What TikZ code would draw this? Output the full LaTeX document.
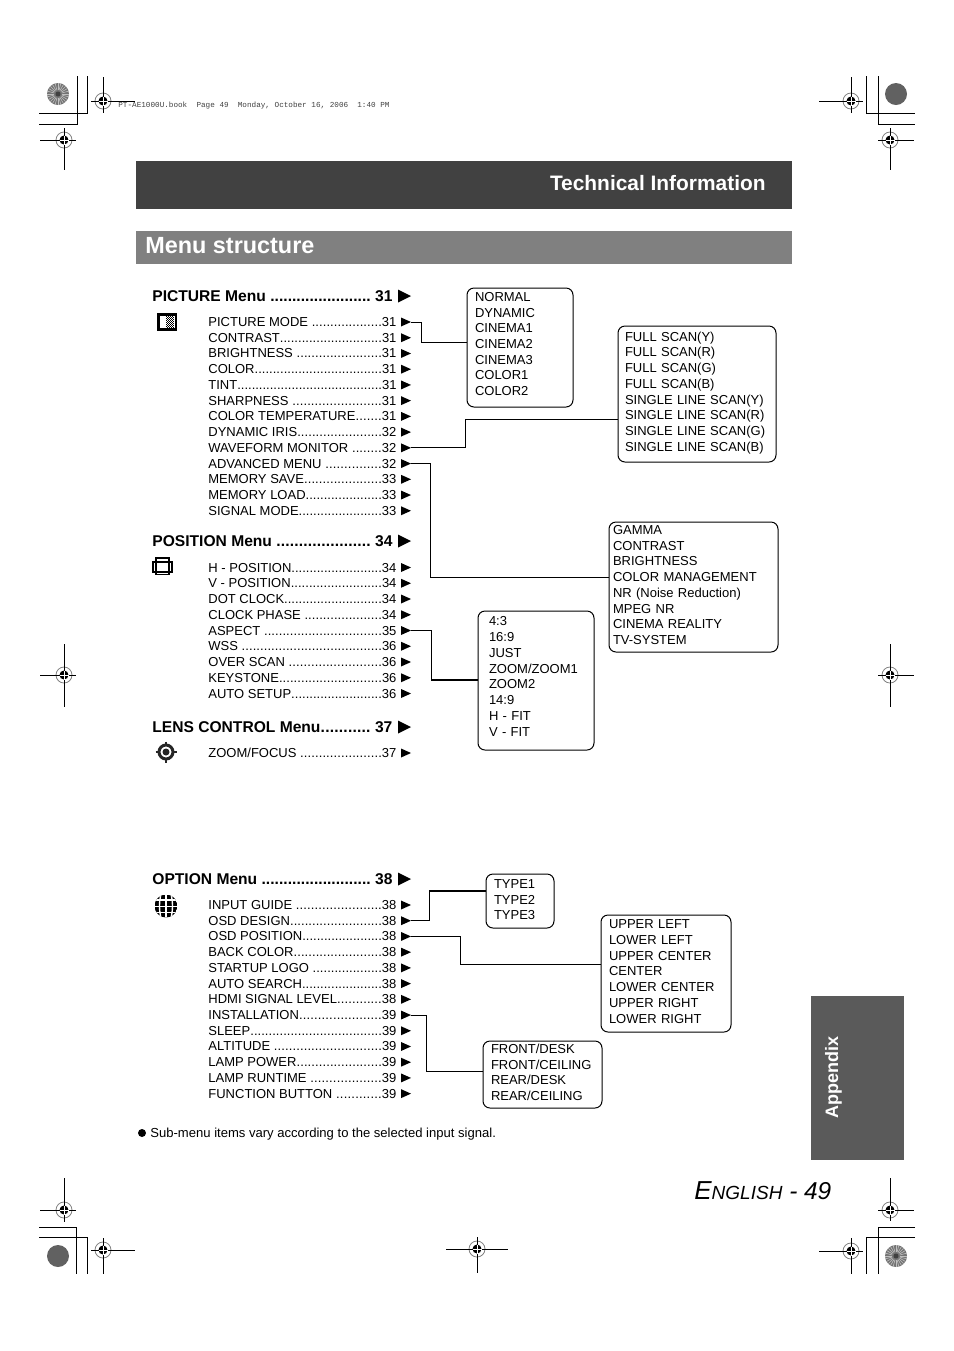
\documentclass[tikz,border=0pt]{standalone}
\usepackage{fontspec}
\setmainfont{Liberation Sans}
\setmonofont{Liberation Mono}
\usetikzlibrary{shapes.geometric}

\definecolor{bannerdark}{HTML}{414141}
\definecolor{bannergrey}{HTML}{808080}
\definecolor{tabgrey}{HTML}{5A5A5A}

\newcommand{\leaderdots}{\xleaders\hbox to .278em{.\hss}\hfill}
\newcommand{\rowfont}{\fontsize{6.5}{7.865}\selectfont}

\tikzset{
    rowtext/.style={anchor=base west, inner sep=0, font=\rowfont},
    headtext/.style={anchor=base west, inner sep=0, font=\fontsize{7.8}{9}\selectfont\bfseries},
    rowtri/.style={isosceles triangle, isosceles triangle stretches, fill=black, inner sep=0, outer sep=0,
        minimum height=5pt, minimum width=4.5pt, anchor=apex},
    headtri/.style={rowtri, minimum height=6.5pt, minimum width=6.5pt},
    menubox/.style={draw, line width=.5pt, rounded corners=3.5pt, anchor=north west, align=left,
        outer sep=0, inner ysep=0, font=\rowfont},
    link/.style={line width=.5pt},
    cropline/.style={line width=.45pt},
}

\begin{document}
\begin{tikzpicture}[x=.5pt, y=-.5pt]
    \useasboundingbox (0,0) rectangle (954,1351);

    % corner lines
    \draw[cropline] (77,76) -- (77,124) -- (39,124);
    \draw[cropline] (87,76) -- (87,113) -- (39,113);
    \draw[cropline] (866,76) -- (866,113) -- (915,113);
    \draw[cropline] (878,76) -- (878,124) -- (915,124);
    \draw[cropline] (39,1227) -- (76,1227) -- (76,1274);
    \draw[cropline] (39,1237) -- (87,1237) -- (87,1274);
    \draw[cropline] (915,1227) -- (878,1227) -- (878,1274);
    \draw[cropline] (915,1237) -- (866,1237) -- (866,1274);

    % register marks
    \foreach \cx/\cy/\xa/\xb/\ya/\yb in {103/101/91/135/77/113, 64/140/40/76/128/170,
        851/101/819/863/77/113, 890/140/878/914/128/170,
        64/675/40/76/644/707, 890/675/878/914/644/707,
        64/1210/40/76/1178/1222, 103/1250/91/135/1238/1274,
        890/1210/878/914/1178/1221, 851/1251/819/863/1238/1274,
        477/1249/446/508/1237/1273} {
        \draw[gray, line width=.4pt] (\cx,\cy) circle (8);
        \draw[cropline] (\xa,\cy) -- (\xb,\cy);
        \draw[cropline] (\cx,\ya) -- (\cx,\yb);
        \fill (\cx,\cy) circle (4.5);
        \draw[white, line width=.2pt] (\cx-4.5,\cy) -- (\cx+4.5,\cy);
        \draw[white, line width=.2pt] (\cx,\cy-4.5) -- (\cx,\cy+4.5);
    }

    % target discs
    \fill[black!62] (896,94) circle (11);
    \fill[black!62] (58,1256) circle (11);
    \foreach \cx/\cy in {58/94, 896/1256} {
        \fill[black!55] (\cx,\cy) circle (11);
        \foreach \a in {0,15,...,345}
            \draw[white!75!black, line width=.3pt] (\cx,\cy) ++(\a:4) -- ++(\a:7);
        \fill[black!75] (\cx,\cy) circle (2.5);
    }

    % print line
    \node[anchor=west, inner sep=0, font=\fontsize{3.83}{4}\selectfont\ttfamily, black!75] (printline) at (118,105.5)
        {PT-AE1000U.book~~Page 49~~Monday, October 16, 2006~~1:40 PM};

    % banners
    \fill[bannerdark] (136,161) rectangle (792,209);
    \node[anchor=base east, inner sep=0, text=white, font=\fontsize{10.45}{12}\selectfont\bfseries] (techtitle) at (766,190.5)
        {Technical Information};
    \fill[bannergrey] (136,231) rectangle (792,264);
    \node[anchor=base west, inner sep=0, text=white, font=\fontsize{11.7}{13}\selectfont\bfseries] (menutitle) at (145,253)
        {Menu structure};

    % PICTURE Menu
    \node[headtext] (pichead) at (152,301) {\hbox to 120pt{PICTURE Menu~\leaderdots~31}};
    \node[headtri] (pictri) at (411,296) {};
    \foreach \lab/\pg [count=\i] in {PICTURE MODE~/31, CONTRAST/31, BRIGHTNESS~/31, COLOR/31, TINT/31,
        SHARPNESS~/31, COLOR TEMPERATURE/31, DYNAMIC IRIS/32, WAVEFORM MONITOR~/32,
        ADVANCED MENU~/32, MEMORY SAVE/33, MEMORY LOAD/33, SIGNAL MODE/33} {
        \pgfmathsetmacro\ry{322+(\i-1)*15.73}
        \node[rowtext] (pictext\i) at (208,\ry+4.5) {\hbox to 94pt{\lab\leaderdots\pg}};
        \node[rowtri] (pic\i) at (411,\ry) {};
    }

    % POSITION Menu
    \node[headtext] (poshead) at (152,546) {\hbox to 120pt{POSITION Menu~\leaderdots~34}};
    \node[headtri] (postri) at (411,541) {};
    \foreach \lab/\pg [count=\i] in {H - POSITION/34, V - POSITION/34, DOT CLOCK/34, CLOCK PHASE~/34,
        ASPECT~/35, WSS~/36, OVER SCAN~/36, KEYSTONE/36, AUTO SETUP/36} {
        \pgfmathsetmacro\ry{567.5+(\i-1)*15.75}
        \node[rowtext] (postext\i) at (208,\ry+4.5) {\hbox to 94pt{\lab\leaderdots\pg}};
        \node[rowtri] (pos\i) at (411,\ry) {};
    }

    % LENS CONTROL Menu
    \node[headtext] (lenshead) at (152,732) {\hbox to 120pt{LENS CONTROL Menu\leaderdots~37}};
    \node[headtri] (lenstri) at (411,727) {};
    \node[rowtext] (lenstext1) at (208,757.5) {\hbox to 94pt{ZOOM/FOCUS~\leaderdots 37}};
    \node[rowtri] (lens1) at (411,753) {};

    % OPTION Menu
    \node[headtext] (opthead) at (152,884) {\hbox to 120pt{OPTION Menu~\leaderdots~38}};
    \node[headtri] (opttri) at (411,879) {};
    \foreach \lab/\pg [count=\i] in {INPUT GUIDE~/38, OSD DESIGN/38, OSD POSITION/38, BACK COLOR/38,
        STARTUP LOGO~/38, AUTO SEARCH/38, HDMI SIGNAL LEVEL/38, INSTALLATION/39, SLEEP/39,
        ALTITUDE~/39, LAMP POWER/39, LAMP RUNTIME~/39, FUNCTION BUTTON~/39} {
        \pgfmathsetmacro\ry{905+(\i-1)*15.72}
        \node[rowtext] (opttext\i) at (208,\ry+4.5) {\hbox to 94pt{\lab\leaderdots\pg}};
        \node[rowtri] (opt\i) at (411,\ry) {};
    }

    % sub-menu boxes
    \node[menubox, inner xsep=4pt, text width=45pt, minimum width=53pt, minimum height=59.5pt, text depth=50.7pt] (modebox) at (467,288)
        {NORMAL\\DYNAMIC\\CINEMA1\\CINEMA2\\CINEMA3\\COLOR1\\COLOR2};
    \node[menubox, inner xsep=3.5pt, text width=72pt, minimum width=79pt, minimum height=68pt, text depth=57.5pt] (scanbox) at (618,326)
        {FULL SCAN(Y)\\FULL SCAN(R)\\FULL SCAN(G)\\FULL SCAN(B)\\SINGLE LINE SCAN(Y)\\SINGLE LINE SCAN(R)\\SINGLE LINE SCAN(G)\\SINGLE LINE SCAN(B)};
    \node[menubox, inner xsep=2pt, text width=80.5pt, minimum width=84.5pt, minimum height=65pt, text depth=57.1pt] (advbox) at (609,522)
        {GAMMA\\CONTRAST\\BRIGHTNESS\\COLOR MANAGEMENT\\NR (Noise Reduction)\\MPEG NR\\CINEMA REALITY\\TV-SYSTEM};
    \node[menubox, inner xsep=5.5pt, text width=47pt, minimum width=58pt, minimum height=69.5pt, text depth=59.1pt] (aspectbox) at (478,611)
        {4:3\\16:9\\JUST\\ZOOM/ZOOM1\\ZOOM2\\14:9\\H - FIT\\V - FIT};
    \node[menubox, inner xsep=4pt, text width=26pt, minimum width=34pt, minimum height=27pt, text depth=17.2pt] (typebox) at (486,874)
        {TYPE1\\TYPE2\\TYPE3};
    \node[menubox, inner xsep=4pt, text width=57pt, minimum width=65pt, minimum height=58.5pt, text depth=49.2pt] (osdbox) at (601,915)
        {UPPER LEFT\\LOWER LEFT\\UPPER CENTER\\CENTER\\LOWER CENTER\\UPPER RIGHT\\LOWER RIGHT};
    \node[menubox, inner xsep=4pt, text width=51.5pt, minimum width=59.5pt, minimum height=33.5pt, text depth=25.8pt] (instbox) at (483,1041)
        {FRONT/DESK\\FRONT/CEILING\\REAR/DESK\\REAR/CEILING};

    % connectors
    \coordinate (modejoin) at (421,342);
    \coordinate (scanjoin) at (465,419);
    \coordinate (advjoin) at (430,577);
    \coordinate (aspectjoin) at (431,680);
    \coordinate (typejoin) at (429,891);
    \coordinate (osdjoin) at (460,964);
    \coordinate (instjoin) at (426,1071);
    \draw[link] (pic1.apex) -| (modejoin) -- (modejoin -| modebox.west);
    \draw[link] (pic9.apex) -| (scanjoin) -- (scanjoin -| scanbox.west);
    \draw[link] (pic10.apex) -| (advjoin) -- (advjoin -| advbox.west);
    \draw[link] (pos5.apex) -| (aspectjoin);
    \draw[link, line width=.8pt] (aspectjoin) -- (aspectjoin -| aspectbox.west);
    \draw[link] (opt2.apex) -| (typejoin);
    \draw[link, line width=.8pt] (typejoin) -- (typejoin -| typebox.west);
    \draw[link] (opt3.apex) -| (osdjoin) -- (osdjoin -| osdbox.west);
    \draw[link] (opt8.apex) -| (instjoin) -- (instjoin -| instbox.west);

    % picture icon
    \fill (157,313) rectangle (177,331);
    \fill[white] (159.5,315.5) rectangle (174.5,327.5);
    \foreach \dx in {0,1,2,3} \foreach \dy in {0,1,2,3,4,5} {
        \fill (166+\dx*2,315.5+\dy*2) rectangle ++(1,1);
        \fill (167+\dx*2,316.5+\dy*2) rectangle ++(1,1);
    }

    % position icon
    \draw[line width=1pt] (153,562) rectangle (172,572);
    \draw[line width=.9pt] (156,558) rectangle (169,574.5);

    % lens icon
    \draw[line width=1.5pt, black!85] (166,752) circle (7);
    \draw[line width=.9pt, black!85] (166,741.5) -- (166,746);
    \draw[line width=.9pt, black!85] (166,758) -- (166,762.5);
    \draw[line width=.9pt, black!85] (155.5,752) -- (160,752);
    \draw[line width=.9pt, black!85] (172,752) -- (176.5,752);
    \fill[black!85] (166,752) circle (3.5);

    % globe icon
    \begin{scope}
        \clip (166,906) circle (11.5);
        \fill (155,895) rectangle (177,918);
        \draw[white, line width=.7pt] (154,900) -- (178,900);
        \draw[white, line width=.7pt] (154,906.5) -- (178,906.5);
        \draw[white, line width=.7pt] (154,912.5) -- (178,912.5);
        \draw[white, line width=.7pt] (166,894) -- (166,918);
        \draw[white, line width=.7pt] (161,894) .. controls (159,902) and (159,910) .. (161,918);
        \draw[white, line width=.7pt] (171,894) .. controls (173,902) and (173,910) .. (171,918);
    \end{scope}

    % footnote
    \node[circle, fill=black, inner sep=0, minimum size=4pt] (notedot) at (142,1133) {};
    \node[anchor=base west, inner sep=0, font=\fontsize{6.53}{8}\selectfont] (notetext) at (150,1137)
        {Sub-menu items vary according to the selected input signal.};

    % appendix tab
    \fill[tabgrey] (811,996) rectangle (904,1160);
    \node[rotate=90, inner sep=0, text=white, font=\fontsize{9}{10}\selectfont\bfseries] (tabtext) at (833.5,1077) {Appendix};

    % page number
    \node[anchor=base west, inner sep=0, font=\itshape] (pagenum) at (694,1199)
        {\fontsize{13}{14}\selectfont E\fontsize{9.5}{14}\selectfont NGLISH\fontsize{12.2}{14}\selectfont{} - 49};
\end{tikzpicture}
\end{document}
